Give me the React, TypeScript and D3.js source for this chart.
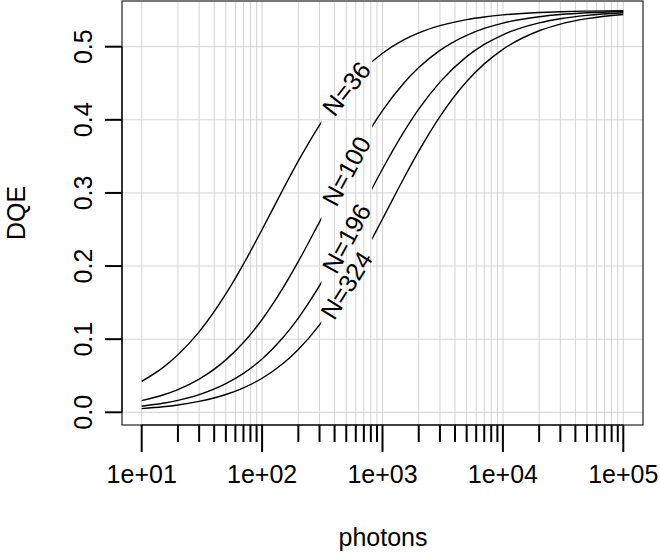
import React from 'react';
import * as d3 from 'd3';

// photons (x) sample points
const photons = [10, 15, 20, 30, 50, 70, 100, 150, 200, 300, 500, 700, 1000, 1500, 2000, 3000, 5000, 7000, 10000, 20000, 30000, 50000, 100000];
// DQE values
const dqeN36 = [0.0423, 0.0611, 0.0786, 0.110, 0.1618, 0.2026, 0.250, 0.3056, 0.3438, 0.3929, 0.4435, 0.4695, 0.4911, 0.5093, 0.5189, 0.5288, 0.5371, 0.5407, 0.5435, 0.5467, 0.5478, 0.5487, 0.5493];
const dqeN100 = [0.0160, 0.0237, 0.0311, 0.0454, 0.0717, 0.0955, 0.1269, 0.1707, 0.2063, 0.2605, 0.3300, 0.3726, 0.4125, 0.4500, 0.4714, 0.4950, 0.5156, 0.5250, 0.5323, 0.5410, 0.5440, 0.5464, 0.5482];
const dqeN196 = [0.0083, 0.0123, 0.0163, 0.0241, 0.0391, 0.0532, 0.0730, 0.1027, 0.1289, 0.1731, 0.2384, 0.2845, 0.3327, 0.3831, 0.4146, 0.4516, 0.4864, 0.5031, 0.5163, 0.5326, 0.5383, 0.5429, 0.5464];
const dqeN324 = [0.0050, 0.0075, 0.0100, 0.0149, 0.0243, 0.0335, 0.0466, 0.0671, 0.0859, 0.1196, 0.1741, 0.2163, 0.2644, 0.3198, 0.3571, 0.4044, 0.4523, 0.4765, 0.4964, 0.5218, 0.5309, 0.5384, 0.5441];
const seriesLabels = ['N=36', 'N=100', 'N=196', 'N=324'];
const labelPhotons = 500;
const labelDQE = [0.443, 0.330, 0.238, 0.174];

const yTicks = [0, 0.1, 0.2, 0.3, 0.4, 0.5];
const yTickLabels = ['0.0', '0.1', '0.2', '0.3', '0.4', '0.5'];
const xMajorTicks = [10, 100, 1000, 10000, 100000];
const xTickLabels = ['1e+01', '1e+02', '1e+03', '1e+04', '1e+05'];
const xTitle = 'photons';
const yTitle = 'DQE';

const W = 660;
const H = 553;
const box = { left: 122, right: 643, top: 1, bottom: 425 };
const FONT = "'Liberation Sans', Arial, Helvetica, sans-serif";
const FS = 25;

export default function App() {
  const x = d3.scaleLog().domain([10, 100000]).range([141.7, 623.3]);
  const y = d3.scaleLinear().domain([0, 0.5]).range([412.3, 46.7]);
  const allSeries = [dqeN36, dqeN100, dqeN196, dqeN324];
  const line = d3
    .line<number>()
    .x((_, i) => x(photons[i]))
    .y((d) => y(d))
    .curve(d3.curveMonotoneX);

  const gridX = x.ticks();
  const minorX = gridX.filter((t) => !xMajorTicks.includes(t));
  const lx = x(labelPhotons);
  const gapL = lx - 25;
  const gapR = lx + 26;

  // angle of each label from the local slope of its curve (pixel space)
  const angles = allSeries.map((s) => {
    const i0 = photons.indexOf(300);
    const i1 = photons.indexOf(700);
    const dx = x(photons[i1]) - x(photons[i0]);
    const dy = y(s[i1]) - y(s[i0]);
    return (Math.atan2(dy, dx) * 180) / Math.PI;
  });

  return (
    <svg width={W} height={H} style={{ position: 'absolute', left: 0, top: 0, background: '#fff' }} fontFamily={FONT}>
      <defs>
        <clipPath id="gapclip">
          <rect x={box.left} y={box.top} width={gapL - box.left} height={box.bottom - box.top} />
          <rect x={gapR} y={box.top} width={box.right - gapR} height={box.bottom - box.top} />
        </clipPath>
      </defs>
      <rect x={0} y={0} width={W} height={H} fill="#fff" />
      {/* grid */}
      <g stroke="#d3d3d3" strokeWidth={1}>
        {gridX.map((t, i) => (
          <line key={'gx' + i} x1={x(t)} x2={x(t)} y1={box.top} y2={box.bottom} />
        ))}
        {yTicks.map((t, i) => (
          <line key={'gy' + i} x1={box.left} x2={box.right} y1={y(t)} y2={y(t)} />
        ))}
      </g>
      {/* curves */}
      <g clipPath="url(#gapclip)" fill="none" stroke="#000" strokeWidth={1.4}>
        {allSeries.map((s, i) => (
          <path key={'c' + i} d={line(s) || ''} />
        ))}
      </g>
      {/* curve labels */}
      {seriesLabels.map((lab, i) => (
        <text
          key={'l' + i}
          x={lx}
          y={y(labelDQE[i])}
          fontSize={FS}
          textAnchor="middle"
          dominantBaseline="central"
          transform={`rotate(${angles[i]} ${lx} ${y(labelDQE[i])})`}
        >
          {lab}
        </text>
      ))}
      {/* box */}
      <rect x={box.left} y={box.top} width={box.right - box.left} height={box.bottom - box.top} fill="none" stroke="#222" strokeWidth={1.2} />
      {/* x axis */}
      <g stroke="#000" strokeWidth={2}>
        <line x1={x(10)} x2={x(100000)} y1={box.bottom} y2={box.bottom} strokeWidth={1.2} />
        {xMajorTicks.map((t, i) => (
          <line key={'xm' + i} x1={x(t)} x2={x(t)} y1={box.bottom} y2={box.bottom + 27} />
        ))}
        {minorX.map((t, i) => (
          <line key={'xn' + i} x1={x(t)} x2={x(t)} y1={box.bottom} y2={box.bottom + 17} />
        ))}
      </g>
      {xMajorTicks.map((t, i) => (
        <text key={'xl' + i} x={x(t)} y={483} fontSize={FS} textAnchor="middle">
          {xTickLabels[i]}
        </text>
      ))}
      {/* y axis */}
      <g stroke="#000" strokeWidth={2}>
        <line x1={box.left} x2={box.left} y1={y(0)} y2={y(0.5)} strokeWidth={1.2} />
        {yTicks.map((t, i) => (
          <line key={'yt' + i} x1={box.left - 17} x2={box.left} y1={y(t)} y2={y(t)} />
        ))}
      </g>
      {yTicks.map((t, i) => (
        <text key={'yl' + i} x={92} y={y(t)} fontSize={FS} textAnchor="middle" transform={`rotate(-90 92 ${y(t)})`}>
          {yTickLabels[i]}
        </text>
      ))}
      <text x={383} y={546} fontSize={FS} textAnchor="middle">
        {xTitle}
      </text>
      <text x={25} y={213} fontSize={FS} textAnchor="middle" transform={`rotate(-90 25 213)`}>
        {yTitle}
      </text>
    </svg>
  );
}
